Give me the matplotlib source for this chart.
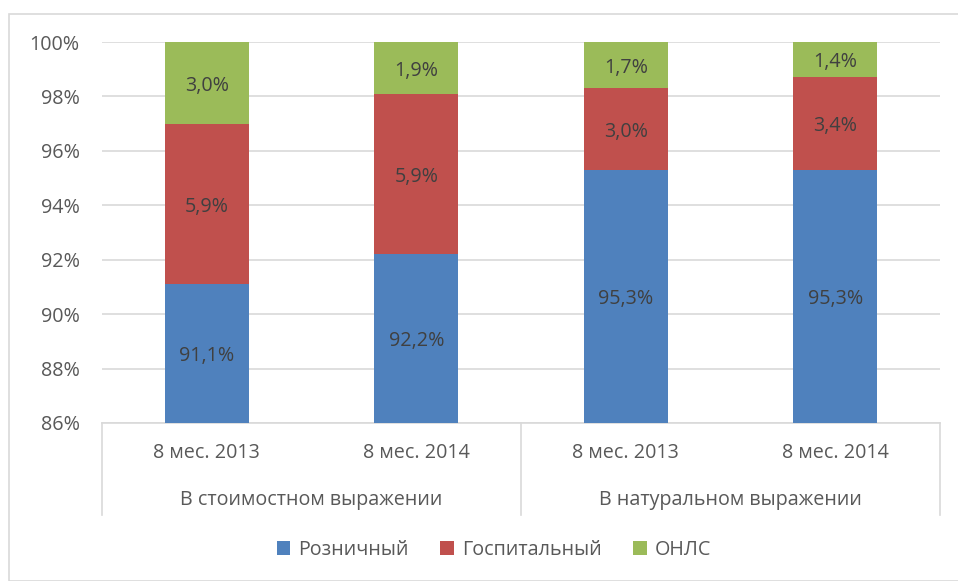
import matplotlib
matplotlib.use("Agg")
import matplotlib.pyplot as plt
import numpy as np
from matplotlib.patches import Rectangle
from matplotlib.lines import Line2D

plt.rcParams['font.family'] = ['Open Sans', 'DejaVu Sans']

periods = ["8 мес. 2013", "8 мес. 2014", "8 мес. 2013", "8 мес. 2014"]
groups = ["В стоимостном выражении", "В натуральном выражении"]
series = ["Розничный", "Госпитальный", "ОНЛС"]
retail = [91.1, 92.2, 95.3, 95.3]
hospital = [5.9, 5.9, 3.0, 3.4]
onls = [3.0, 1.9, 1.7, 1.4]
colors = ["#4F81BD", "#C0504D", "#9BBB59"]

W, H = 958, 581
fig = plt.figure(figsize=(W / 100, H / 100), dpi=100)
txt = "#595959"
fs = 14.2

# outer chart border
fig.patches.append(Rectangle((9 / W, 0), 1.0, 1 - 14 / H, transform=fig.transFigure,
                             fill=False, edgecolor="#D9D9D9", linewidth=1.2))

ax = fig.add_axes([102 / W, (H - 423) / H, 838 / W, 381 / H])
ymin, ymax = 86, 100
x = np.arange(len(periods))
bottom = np.zeros(len(periods))
for vals, col, name in zip([retail, hospital, onls], colors, series):
    v = np.array(vals)
    ax.bar(x, v, width=0.4, bottom=bottom, color=col, label=name, zorder=3)
    for xi, b, h in zip(x, bottom, v):
        # label in the middle of the visible part of the segment
        mid = (max(b, ymin) + min(b + h, ymax)) / 2
        ax.text(xi, mid - 0.1, f"{h:.1f}".replace(".", ",") + "%", ha="center", va="center",
                fontsize=fs, color="#404040", zorder=4)
    bottom += v

ax.set_xlim(-0.5, 3.5)
ax.set_ylim(ymin, ymax)
ax.set_yticks(np.arange(86, 101, 2))
ax.set_yticklabels([f"{t}%" for t in range(86, 101, 2)])
ax.yaxis.grid(True, color="#D9D9D9", linewidth=1.2, zorder=0)
for s in ["top", "right", "left"]:
    ax.spines[s].set_visible(False)
ax.spines["bottom"].set_color("#D9D9D9")
ax.spines["bottom"].set_linewidth(1.2)
ax.tick_params(axis="y", length=0, labelsize=fs, labelcolor=txt, pad=16)
ax.set_xticks([])

# category labels
for xi, p in zip(x, periods):
    ax.text(xi, -30 / 381, p, transform=ax.get_xaxis_transform(), ha="center",
            va="center", fontsize=fs, color=txt)
for gi, g in enumerate(groups):
    ax.text(gi * 2 + 0.5, -77 / 381, g, transform=ax.get_xaxis_transform(),
            ha="center", va="center", fontsize=fs, color=txt)
for xs in [-0.5, 1.5, 3.5]:
    ax.add_line(Line2D([xs, xs], [0, -92 / 381], transform=ax.get_xaxis_transform(),
                       color="#D9D9D9", linewidth=1.2, clip_on=False))

leg = fig.legend(loc="center", bbox_to_anchor=(494 / W, 1 - 550 / H), ncol=3,
                 frameon=False, fontsize=fs, handlelength=0.7, handleheight=0.7,
                 columnspacing=1.6, handletextpad=0.4)
for t in leg.get_texts():
    t.set_color(txt)

fig.savefig("out.png", dpi=100)
